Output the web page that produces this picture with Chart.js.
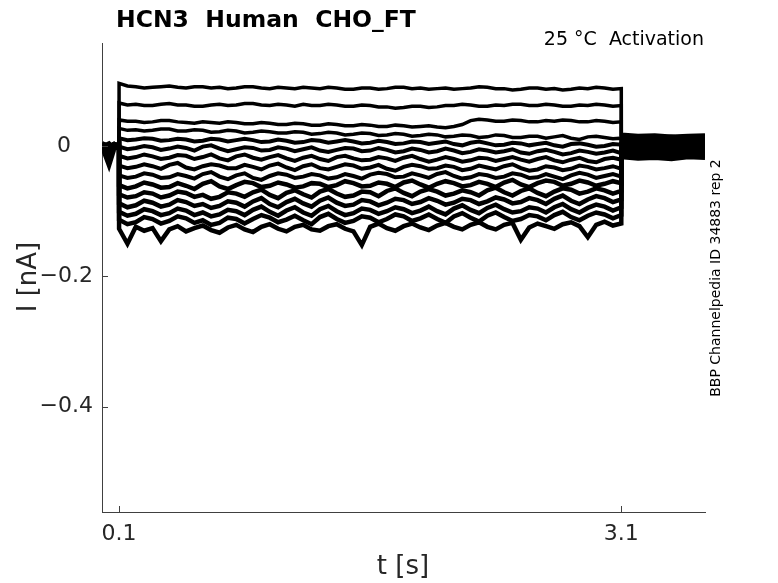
<!DOCTYPE html>
<html>
<head>
<meta charset="utf-8">
<script src="https://cdn.jsdelivr.net/npm/chart.js@4.4.0/dist/chart.umd.min.js"></script>
<style>
  body { margin: 0; background: #fff; }
</style>
</head>
<body>
<canvas id="chart" width="778" height="583"></canvas>
<script>
// time in s: holding, step (0.1 .. 3.1), tail
const timePoints = [
  0, 0.04, 0.07, 0.1,
  0.10, 0.15, 0.20, 0.25, 0.30, 0.35, 0.40, 0.45, 0.50, 0.55,
  0.60, 0.65, 0.70, 0.75, 0.80, 0.85, 0.90, 0.95, 1.00, 1.05,
  1.10, 1.15, 1.20, 1.25, 1.30, 1.35, 1.40, 1.45, 1.50, 1.55,
  1.60, 1.65, 1.70, 1.75, 1.80, 1.85, 1.90, 1.95, 2.00, 2.05,
  2.10, 2.15, 2.20, 2.25, 2.30, 2.35, 2.40, 2.45, 2.50, 2.55,
  2.60, 2.65, 2.70, 2.75, 2.80, 2.85, 2.90, 2.95, 3.00, 3.05,
  3.10,
  3.1, 3.2, 3.3, 3.4, 3.5, 3.6
];

// current in nA per sweep: holding (4), step (61), tail (6)
const traces = [
  [0.004, 0.001, 0.003, 0.002,
   0.096, 0.092, 0.091, 0.089, 0.090, 0.091, 0.092, 0.090, 0.089, 0.091,
   0.091, 0.089, 0.090, 0.088, 0.089, 0.091, 0.091, 0.089, 0.088, 0.090,
   0.089, 0.088, 0.090, 0.089, 0.088, 0.090, 0.089, 0.087, 0.087, 0.089,
   0.089, 0.087, 0.088, 0.090, 0.090, 0.088, 0.089, 0.087, 0.088, 0.089,
   0.087, 0.088, 0.089, 0.091, 0.090, 0.088, 0.088, 0.086, 0.087, 0.089,
   0.089, 0.087, 0.088, 0.086, 0.087, 0.089, 0.088, 0.090, 0.089, 0.087,
   0.088,
   0.018, 0.016, 0.017, 0.015, 0.016, 0.017],
  [-0.003, 0.002, -0.001, 0.003,
   0.066, 0.063, 0.064, 0.062, 0.062, 0.064, 0.065, 0.063, 0.063, 0.061,
   0.061, 0.063, 0.064, 0.062, 0.063, 0.065, 0.065, 0.063, 0.062, 0.064,
   0.063, 0.061, 0.064, 0.062, 0.062, 0.064, 0.063, 0.061, 0.061, 0.063,
   0.062, 0.060, 0.060, 0.058, 0.059, 0.061, 0.061, 0.059, 0.060, 0.062,
   0.062, 0.064, 0.063, 0.061, 0.061, 0.063, 0.062, 0.064, 0.064, 0.062,
   0.062, 0.064, 0.063, 0.061, 0.061, 0.063, 0.062, 0.064, 0.063, 0.061,
   0.062,
   0.015, 0.014, 0.013, 0.015, 0.012, 0.014],
  [0.002, -0.004, 0.001, -0.002,
   0.040, 0.038, 0.038, 0.036, 0.037, 0.039, 0.039, 0.037, 0.036, 0.035,
   0.037, 0.036, 0.035, 0.037, 0.036, 0.034, 0.034, 0.036, 0.035, 0.033,
   0.033, 0.035, 0.034, 0.032, 0.032, 0.034, 0.033, 0.031, 0.031, 0.033,
   0.032, 0.030, 0.030, 0.032, 0.031, 0.029, 0.030, 0.031, 0.029, 0.028,
   0.030, 0.033, 0.039, 0.041, 0.040, 0.038, 0.038, 0.040, 0.039, 0.037,
   0.037, 0.039, 0.038, 0.040, 0.039, 0.037, 0.037, 0.039, 0.038, 0.036,
   0.037,
   0.012, 0.011, 0.013, 0.010, 0.012, 0.011],
  [0.005, 0.000, 0.004, 0.001,
   0.027, 0.024, 0.025, 0.023, 0.024, 0.026, 0.026, 0.023, 0.023, 0.025,
   0.024, 0.021, 0.022, 0.024, 0.023, 0.020, 0.021, 0.023, 0.022, 0.020,
   0.020, 0.022, 0.021, 0.018, 0.019, 0.021, 0.020, 0.017, 0.018, 0.020,
   0.019, 0.016, 0.017, 0.019, 0.018, 0.015, 0.016, 0.018, 0.017, 0.014,
   0.015, 0.017, 0.016, 0.013, 0.014, 0.017, 0.016, 0.013, 0.013, 0.015,
   0.015, 0.012, 0.014, 0.016, 0.012, 0.010, 0.014, 0.015, 0.013, 0.011,
   0.012,
   0.010, 0.008, 0.009, 0.007, 0.009, 0.008],
  [-0.002, 0.003, -0.003, 0.000,
   0.012, 0.009, 0.010, 0.012, 0.011, 0.008, 0.009, 0.011, 0.010, 0.007,
   0.008, 0.011, 0.010, 0.007, 0.009, 0.011, 0.009, 0.006, 0.007, 0.010,
   0.008, 0.005, 0.006, 0.009, 0.008, 0.005, 0.007, 0.009, 0.007, 0.004,
   0.005, 0.008, 0.006, 0.003, 0.004, 0.007, 0.006, 0.003, 0.005, 0.007,
   0.003, 0.001, 0.005, 0.007, 0.004, 0.001, 0.002, 0.005, 0.004, 0.001,
   0.003, 0.005, 0.001, -0.001, 0.003, 0.004, 0.002, -0.001, 0.000, 0.003,
   0.002,
   0.007, 0.006, 0.004, 0.006, 0.005, 0.007],
  [0.001, -0.006, 0.002, -0.001,
   -0.001, -0.005, -0.003, 0.000, -0.002, -0.006, -0.004, -0.001, -0.003, -0.007,
   -0.001, 0.001, -0.004, -0.008, -0.005, -0.002, -0.003, -0.007, -0.006, -0.002,
   -0.004, -0.008, -0.005, -0.002, -0.007, -0.009, -0.006, -0.003, -0.004, -0.008,
   -0.007, -0.003, -0.006, -0.010, -0.008, -0.004, -0.006, -0.010, -0.008, -0.004,
   -0.007, -0.011, -0.009, -0.005, -0.007, -0.010, -0.008, -0.005, -0.010, -0.012,
   -0.008, -0.006, -0.009, -0.013, -0.011, -0.007, -0.009, -0.012, -0.010, -0.007,
   -0.011,
   0.004, 0.003, 0.005, 0.002, 0.004, 0.003],
  [0.003, -0.002, 0.000, 0.004,
   -0.015, -0.019, -0.017, -0.013, -0.016, -0.020, -0.018, -0.014, -0.015, -0.020,
   -0.017, -0.013, -0.019, -0.022, -0.016, -0.013, -0.018, -0.021, -0.017, -0.014,
   -0.019, -0.023, -0.018, -0.015, -0.020, -0.023, -0.017, -0.015, -0.019, -0.022,
   -0.021, -0.017, -0.019, -0.023, -0.018, -0.015, -0.020, -0.024, -0.021, -0.017,
   -0.020, -0.024, -0.022, -0.018, -0.019, -0.023, -0.020, -0.017, -0.021, -0.024,
   -0.020, -0.017, -0.022, -0.025, -0.021, -0.018, -0.023, -0.025, -0.020, -0.018,
   -0.021,
   0.002, 0.000, 0.001, -0.001, 0.001, 0.002],
  [-0.004, 0.001, -0.002, 0.002,
   -0.030, -0.034, -0.032, -0.028, -0.031, -0.035, -0.029, -0.026, -0.033, -0.036,
   -0.031, -0.028, -0.030, -0.034, -0.034, -0.029, -0.032, -0.036, -0.030, -0.027,
   -0.033, -0.037, -0.031, -0.028, -0.034, -0.036, -0.032, -0.028, -0.030, -0.035,
   -0.033, -0.029, -0.035, -0.038, -0.032, -0.029, -0.031, -0.035, -0.034, -0.030,
   -0.032, -0.037, -0.035, -0.030, -0.033, -0.036, -0.031, -0.028, -0.034, -0.038,
   -0.036, -0.031, -0.033, -0.037, -0.035, -0.030, -0.032, -0.036, -0.034, -0.031,
   -0.035,
   -0.001, -0.002, 0.000, -0.003, -0.001, -0.002],
  [0.000, -0.012, -0.003, 0.001,
   -0.045, -0.049, -0.047, -0.042, -0.044, -0.049, -0.048, -0.043, -0.046, -0.050,
   -0.043, -0.040, -0.047, -0.051, -0.045, -0.042, -0.049, -0.052, -0.046, -0.042,
   -0.044, -0.049, -0.047, -0.043, -0.045, -0.050, -0.048, -0.043, -0.046, -0.050,
   -0.044, -0.041, -0.043, -0.048, -0.047, -0.042, -0.045, -0.049, -0.043, -0.040,
   -0.046, -0.050, -0.048, -0.043, -0.045, -0.049, -0.047, -0.042, -0.044, -0.049,
   -0.048, -0.043, -0.047, -0.051, -0.045, -0.041, -0.044, -0.049, -0.046, -0.043,
   -0.047,
   -0.003, -0.005, -0.004, -0.002, -0.004, -0.003],
  [0.002, -0.001, 0.003, -0.003,
   -0.060, -0.065, -0.062, -0.056, -0.059, -0.064, -0.063, -0.057, -0.061, -0.066,
   -0.058, -0.054, -0.062, -0.066, -0.060, -0.055, -0.057, -0.063, -0.061, -0.056,
   -0.059, -0.064, -0.062, -0.057, -0.058, -0.063, -0.060, -0.054, -0.057, -0.062,
   -0.061, -0.056, -0.058, -0.063, -0.056, -0.053, -0.059, -0.064, -0.058, -0.054,
   -0.057, -0.062, -0.060, -0.055, -0.058, -0.063, -0.056, -0.052, -0.059, -0.063,
   -0.057, -0.053, -0.055, -0.061, -0.058, -0.053, -0.056, -0.061, -0.058, -0.054,
   -0.057,
   -0.006, -0.007, -0.005, -0.008, -0.006, -0.007],
  [-0.001, 0.004, -0.004, 0.002,
   -0.074, -0.079, -0.077, -0.071, -0.073, -0.079, -0.076, -0.070, -0.072, -0.078,
   -0.075, -0.081, -0.078, -0.071, -0.073, -0.078, -0.071, -0.067, -0.075, -0.080,
   -0.072, -0.068, -0.074, -0.079, -0.070, -0.066, -0.073, -0.078, -0.076, -0.070,
   -0.071, -0.077, -0.069, -0.065, -0.072, -0.077, -0.070, -0.066, -0.070, -0.076,
   -0.073, -0.068, -0.071, -0.076, -0.068, -0.064, -0.071, -0.076, -0.069, -0.065,
   -0.072, -0.077, -0.070, -0.065, -0.067, -0.073, -0.070, -0.065, -0.068, -0.073,
   -0.069,
   -0.008, -0.009, -0.010, -0.008, -0.011, -0.009],
  [0.003, -0.020, 0.001, -0.002,
   -0.088, -0.094, -0.091, -0.084, -0.087, -0.093, -0.090, -0.083, -0.086, -0.092,
   -0.089, -0.095, -0.092, -0.085, -0.087, -0.093, -0.085, -0.080, -0.089, -0.094,
   -0.086, -0.081, -0.088, -0.093, -0.084, -0.079, -0.087, -0.092, -0.090, -0.083,
   -0.085, -0.091, -0.087, -0.081, -0.083, -0.089, -0.086, -0.080, -0.084, -0.090,
   -0.087, -0.081, -0.083, -0.089, -0.085, -0.079, -0.082, -0.088, -0.086, -0.080,
   -0.083, -0.089, -0.081, -0.076, -0.084, -0.089, -0.082, -0.077, -0.080, -0.086,
   -0.082,
   -0.011, -0.012, -0.010, -0.013, -0.011, -0.012],
  [-0.003, 0.002, -0.001, 0.003,
   -0.101, -0.107, -0.104, -0.097, -0.100, -0.106, -0.103, -0.096, -0.099, -0.106,
   -0.102, -0.108, -0.105, -0.098, -0.100, -0.106, -0.098, -0.093, -0.101, -0.107,
   -0.099, -0.094, -0.102, -0.107, -0.097, -0.092, -0.100, -0.106, -0.103, -0.096,
   -0.098, -0.104, -0.100, -0.094, -0.097, -0.103, -0.099, -0.093, -0.100, -0.105,
   -0.096, -0.091, -0.098, -0.103, -0.095, -0.090, -0.097, -0.102, -0.100, -0.094,
   -0.096, -0.102, -0.094, -0.089, -0.097, -0.102, -0.095, -0.090, -0.093, -0.099,
   -0.094,
   -0.013, -0.014, -0.016, -0.013, -0.015, -0.014],
  [0.001, -0.003, 0.002, 0.000,
   -0.113, -0.120, -0.117, -0.109, -0.112, -0.119, -0.115, -0.108, -0.111, -0.118,
   -0.114, -0.121, -0.118, -0.110, -0.112, -0.119, -0.112, -0.106, -0.110, -0.117,
   -0.113, -0.107, -0.114, -0.120, -0.109, -0.104, -0.112, -0.118, -0.115, -0.108,
   -0.110, -0.117, -0.112, -0.105, -0.108, -0.115, -0.111, -0.105, -0.112, -0.118,
   -0.108, -0.103, -0.110, -0.116, -0.107, -0.102, -0.109, -0.115, -0.112, -0.106,
   -0.108, -0.114, -0.106, -0.101, -0.109, -0.114, -0.107, -0.102, -0.105, -0.111,
   -0.106,
   -0.015, -0.017, -0.016, -0.018, -0.016, -0.015],
  [-0.002, -0.030, -0.005, 0.001,
   -0.127, -0.150, -0.124, -0.130, -0.126, -0.146, -0.128, -0.123, -0.131, -0.126,
   -0.122, -0.129, -0.133, -0.125, -0.121, -0.128, -0.132, -0.124, -0.120, -0.127,
   -0.131, -0.124, -0.121, -0.128, -0.130, -0.123, -0.120, -0.127, -0.131, -0.152,
   -0.124, -0.119, -0.126, -0.130, -0.123, -0.119, -0.125, -0.129, -0.122, -0.118,
   -0.124, -0.128, -0.121, -0.117, -0.124, -0.128, -0.121, -0.118, -0.144, -0.125,
   -0.119, -0.123, -0.127, -0.120, -0.117, -0.123, -0.140, -0.121, -0.116, -0.122,
   -0.119,
   -0.017, -0.019, -0.018, -0.020, -0.017, -0.018]
];

const xTickValues = [0.1, 3.1];
const xTickLabels = ["0.1", "3.1"];
const yTickValues = [-0.4, -0.2, 0];
const yTickLabels = ["\u22120.4", "\u22120.2", "0\u2003"];

const titleText = "HCN3  Human  CHO_FT";
const subtitleText = "25 °C  Activation";
const sideText = "BBP Channelpedia ID 34883 rep 2";
const xLabel = "t [s]";
const yLabel = "I [nA]";

const axisColor = "#404040";
const textColor = "#262626";
const fontFamily = "'DejaVu Sans', sans-serif";

const datasets = traces.map((vals, i) => ({
  data: vals.map((v, k) => ({ x: timePoints[k], y: v })),
  borderColor: "#000",
  borderWidth: i < 4 ? 3.5 : i < 9 ? 4 : 4.5,
  pointRadius: 0,
  fill: false,
  tension: 0,
}));

// inward tick marks plus all free text
const decorPlugin = {
  id: "decor",
  afterDraw(chart) {
    const ctx = chart.ctx;
    const area = chart.chartArea;
    const xs = chart.scales.x;
    const ys = chart.scales.y;
    ctx.save();
    ctx.strokeStyle = axisColor;
    ctx.lineWidth = 1;
    ctx.beginPath();
    xTickValues.forEach((v) => {
      const px = Math.round(xs.getPixelForValue(v)) + 0.5;
      ctx.moveTo(px, area.bottom);
      ctx.lineTo(px, area.bottom - 6);
    });
    yTickValues.forEach((v) => {
      const py = Math.round(ys.getPixelForValue(v)) + 0.5;
      ctx.moveTo(area.left, py);
      ctx.lineTo(area.left + 6, py);
    });
    ctx.stroke();

    ctx.fillStyle = "#000";
    ctx.textBaseline = "middle";
    ctx.font = "bold 23.5px " + fontFamily;
    ctx.textAlign = "left";
    ctx.fillText(titleText, 116, 21);

    ctx.font = "19px " + fontFamily;
    ctx.textAlign = "right";
    ctx.fillText(subtitleText, 704, 40);

    ctx.fillStyle = textColor;
    ctx.font = "26px " + fontFamily;
    ctx.textAlign = "center";
    ctx.fillText(xLabel, 403, 567);

    ctx.save();
    ctx.translate(29, 277);
    ctx.rotate(-Math.PI / 2);
    ctx.fillText(yLabel, 0, 0);
    ctx.restore();

    ctx.fillStyle = "#000";
    ctx.font = "14px " + fontFamily;
    ctx.save();
    ctx.translate(716, 278);
    ctx.rotate(-Math.PI / 2);
    ctx.fillText(sideText, 0, 0);
    ctx.restore();

    ctx.restore();
  },
};

new Chart(document.getElementById("chart"), {
  type: "line",
  data: { datasets },
  options: {
    responsive: false,
    animation: false,
    events: [],
    layout: { padding: { top: 43, right: 73, left: 0, bottom: 0 } },
    plugins: { legend: { display: false }, tooltip: { enabled: false } },
    scales: {
      x: {
        type: "linear",
        min: -0.002,
        max: 3.6,
        grid: { display: false, drawTicks: false },
        border: { display: true, color: axisColor, width: 1 },
        afterBuildTicks: (scale) => {
          scale.ticks = xTickValues.map((v) => ({ value: v }));
        },
        afterFit: (scale) => {
          scale.height = 71;
        },
        ticks: {
          autoSkip: false,
          maxRotation: 0,
          padding: 9,
          color: textColor,
          font: { family: fontFamily, size: 22 },
          callback: (value, index) => xTickLabels[index],
        },
      },
      y: {
        type: "linear",
        min: -0.5615,
        max: 0.158,
        grid: { display: false, drawTicks: false },
        border: { display: true, color: axisColor, width: 1 },
        afterBuildTicks: (scale) => {
          scale.ticks = yTickValues.map((v) => ({ value: v }));
        },
        afterFit: (scale) => {
          scale.width = 102;
        },
        ticks: {
          autoSkip: false,
          padding: 9,
          color: textColor,
          font: { family: fontFamily, size: 22 },
          callback: (value, index) => yTickLabels[index],
        },
      },
    },
  },
  plugins: [decorPlugin],
});
</script>
</body>
</html>
